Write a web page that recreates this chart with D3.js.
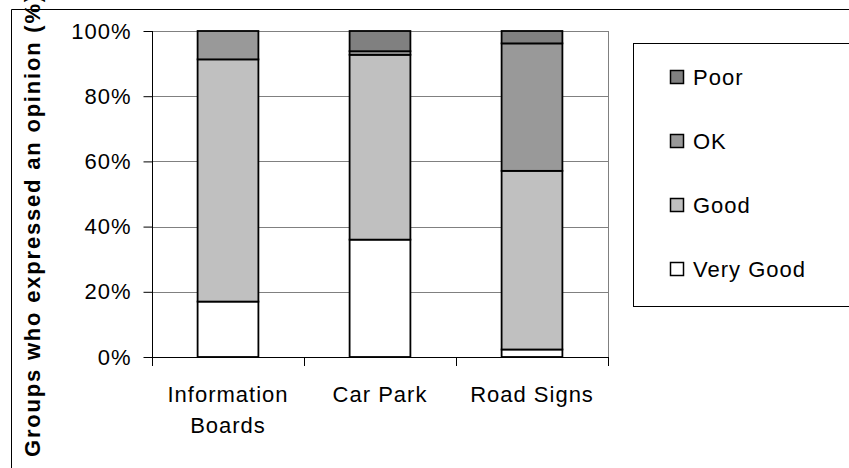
<!DOCTYPE html>
<html>
<head>
<meta charset="utf-8">
<script src="https://cdn.jsdelivr.net/npm/d3@7"></script>
<style>
body { margin: 0; background: #fff; }
text { font-family: "Liberation Sans", Arial, sans-serif; }
</style>
</head>
<body>
<script>
var categories = ['Information Boards', 'Car Park', 'Road Signs'];
var catLines = [['Information', 'Boards'], ['Car Park'], ['Road Signs']];
var seriesNames = ['Very Good', 'Good', 'OK', 'Poor'];
var veryGood = [17, 36, 2.3];
var good = [74.3, 56.7, 54.8];
var ok = [8.7, 1.1, 39.1];
var poor = [0, 6.2, 3.8];
var yTicks = [0, 20, 40, 60, 80, 100];
var colors = ['#ffffff', '#c0c0c0', '#999999', '#808080'];

var rows = categories.map(function (c, i) {
  return { cat: c, 'Very Good': veryGood[i], 'Good': good[i], 'OK': ok[i], 'Poor': poor[i] };
});

var svg = d3.select('body').append('svg').attr('width', 849).attr('height', 468);

// outer frame
svg.append('path').attr('d', 'M11.5,468 V9.5 H849').attr('fill', 'none').attr('stroke', '#000');

var x = d3.scaleBand().domain(categories).range([152, 608]).padding(0);
var y = d3.scaleLinear().domain([0, 100]).range([357, 31]);

// gridlines
svg.append('g').selectAll('line').data(yTicks.slice(1)).join('line')
  .attr('x1', 152).attr('x2', 608)
  .attr('y1', function (d) { return Math.round(y(d)) + 0.5; })
  .attr('y2', function (d) { return Math.round(y(d)) + 0.5; })
  .attr('stroke', '#808080');
svg.append('line').attr('x1', 608.5).attr('x2', 608.5).attr('y1', 31).attr('y2', 357)
  .attr('stroke', '#808080');

// bars
var stack = d3.stack().keys(seriesNames)(rows);
var barW = x.bandwidth() * 0.4;
svg.append('g').selectAll('g').data(stack).join('g')
  .attr('fill', function (d, i) { return colors[i]; })
  .selectAll('rect').data(function (d) { return d; }).join('rect')
  .attr('x', function (d) { return x(d.data.cat) + (x.bandwidth() - barW) / 2; })
  .attr('width', barW)
  .attr('y', function (d) { return y(d[1]); })
  .attr('height', function (d) { return y(d[0]) - y(d[1]); })
  .attr('stroke', '#000').attr('stroke-width', 1.8);

// y axis
var yAxis = svg.append('g').attr('transform', 'translate(152.5,0)')
  .call(d3.axisLeft(y).tickValues(yTicks).tickSize(9).tickPadding(12)
    .tickFormat(function (d) { return d + '%'; }));
yAxis.select('.domain').attr('d', 'M0,31V366');
yAxis.selectAll('text').attr('font-size', 22).attr('letter-spacing', 1)
  .attr('font-family', '"Liberation Sans", Arial, sans-serif').attr('fill', '#000');

// x axis
var xAxis = svg.append('g').attr('transform', 'translate(0,357.5)')
  .call(d3.axisBottom(x).tickSize(0).tickPadding(0));
xAxis.select('.domain').attr('d', 'M152,0H608');
xAxis.selectAll('.tick text').remove();
svg.append('g').selectAll('line').data(categories.concat(['end'])).join('line')
  .attr('x1', function (d, i) { return Math.round(152 + i * x.step()) + 0.5; })
  .attr('x2', function (d, i) { return Math.round(152 + i * x.step()) + 0.5; })
  .attr('y1', 357).attr('y2', 366).attr('stroke', '#000');
svg.append('g').selectAll('text').data(categories).join('text')
  .attr('x', function (d) { return x(d) + x.bandwidth() / 2; })
  .attr('y', 402)
  .attr('text-anchor', 'middle').attr('font-size', 22).attr('letter-spacing', 1)
  .each(function (d, i) {
    var t = d3.select(this);
    catLines[i].forEach(function (line, j) {
      t.append('tspan').attr('x', x(d) + x.bandwidth() / 2).attr('dy', j === 0 ? 0 : 31).text(line);
    });
  });

// y label
svg.append('text')
  .attr('transform', 'translate(40,457) rotate(-90)')
  .attr('font-size', 22).attr('font-weight', 'bold').attr('letter-spacing', 1.8)
  .text('Groups who expressed an opinion (%)');

// legend
svg.append('rect').attr('x', 633.5).attr('y', 43.5).attr('width', 230).attr('height', 263)
  .attr('fill', '#fff').attr('stroke', '#000');
var legendOrder = seriesNames.slice().reverse();
var legendY = [77, 141, 205, 269];
var leg = svg.append('g').selectAll('g').data(legendOrder).join('g')
  .attr('transform', function (d, i) { return 'translate(670,' + legendY[i] + ')'; });
leg.append('rect').attr('x', 0.5).attr('y', -6.5).attr('width', 13).attr('height', 13)
  .attr('fill', function (d) { return colors[seriesNames.indexOf(d)]; })
  .attr('stroke', '#000').attr('stroke-width', 1.5);
leg.append('text').attr('x', 23).attr('y', 8).attr('font-size', 22).attr('letter-spacing', 1)
  .text(function (d) { return d; });
</script>
</body>
</html>
